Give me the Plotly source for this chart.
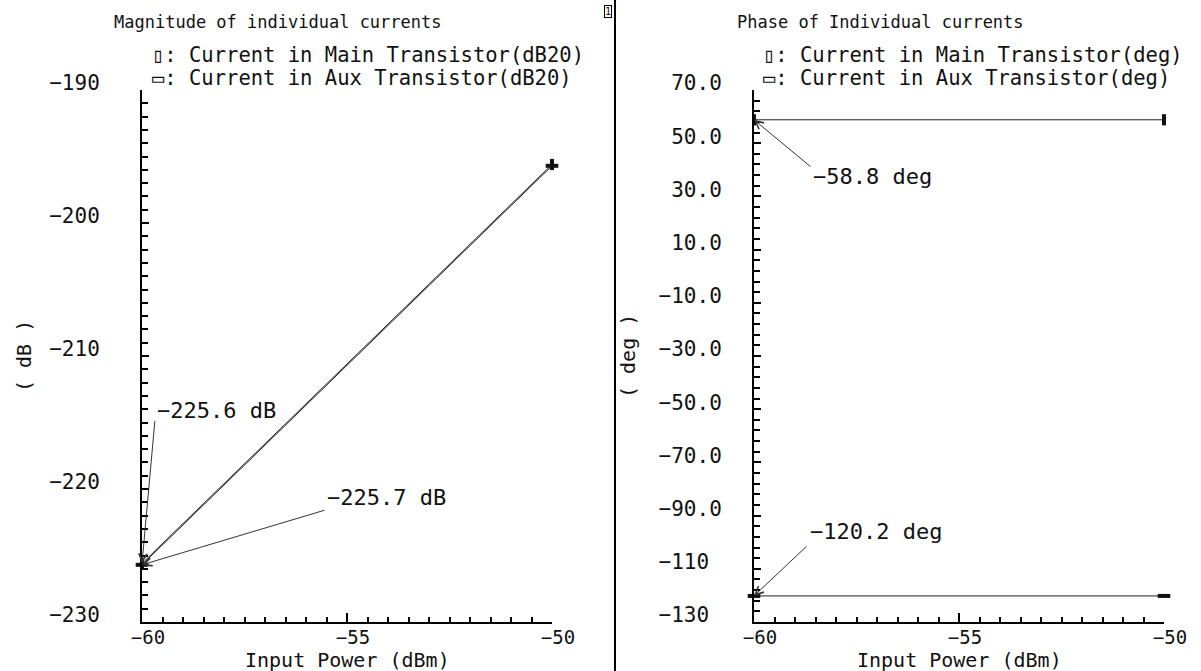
import plotly.graph_objects as go

W, H = 1201, 671

# ---- data ----
input_power = [-60, -50]
mag_main = [-225.6, -195.6]
mag_aux = [-225.7, -195.7]
phase_main = [58.8, 58.8]
phase_aux = [-120.2, -120.2]

x_ticks = [-60, -55, -50]
x_ticktext = ["−60", "−55", "−50"]
mag_ticks = [-230, -220, -210, -200, -190]
mag_ticktext = ["−230", "−220", "−210", "−200", "−190"]
phase_ticks = [-130, -110, -90, -70, -50, -30, -10, 10, 30, 50, 70]
phase_ticktext = ["−130\u00a0", "−110\u00a0", "−90.0", "−70.0", "−50.0", "−30.0",
                  "−10.0", "\u00a010.0", "\u00a030.0", "\u00a050.0", "\u00a070.0"]

FONT = "DejaVu Sans Mono"
INK = "#111111"


def px(x):
    return x / W


def py(y):
    return 1 - y / H


fig = go.Figure()

line_style = dict(color="#222222", width=1)
main_marker = dict(symbol="line-ns", size=8, line=dict(color="#111111", width=4))
aux_marker = dict(symbol="line-ew", size=9, line=dict(color="#111111", width=4))

fig.add_trace(go.Scatter(x=input_power, y=mag_main, mode="lines+markers", line=line_style,
                         marker=main_marker, xaxis="x", yaxis="y", cliponaxis=False,
                         name="Current in Main Transistor(dB20)", showlegend=False))
fig.add_trace(go.Scatter(x=input_power, y=mag_aux, mode="lines+markers", line=line_style,
                         marker=aux_marker, xaxis="x", yaxis="y", cliponaxis=False,
                         name="Current in Aux Transistor(dB20)", showlegend=False))
fig.add_trace(go.Scatter(x=input_power, y=phase_main, mode="lines+markers", line=line_style,
                         marker=main_marker, xaxis="x2", yaxis="y2", cliponaxis=False,
                         name="Current in Main Transistor(deg)", showlegend=False))
fig.add_trace(go.Scatter(x=input_power, y=phase_aux, mode="lines+markers", line=line_style,
                         marker=aux_marker, xaxis="x2", yaxis="y2", cliponaxis=False,
                         name="Current in Aux Transistor(deg)", showlegend=False))

common = dict(showline=True, linecolor="black", linewidth=2, ticks="inside",
              tickcolor="black", tickwidth=1.5, showgrid=False, zeroline=False,
              fixedrange=True, automargin=False,
              tickfont=dict(family=FONT, size=21, color=INK))

xa = dict(common, range=[-60, -50], tickmode="array", tickvals=x_ticks, ticktext=x_ticktext,
          ticklen=9, ticklabelshift=6, ticklabelstandoff=-3,
          tickfont=dict(family=FONT, size=19, color=INK),
          minor=dict(ticks="inside", tick0=-60, dtick=0.5, ticklen=5, tickwidth=1.5,
                     tickcolor="black"))

L0, L1 = 142, 552
R0, R1 = 754, 1164
T, B = 90, 622

fig.update_layout(
    width=W, height=H, margin=dict(l=0, r=0, t=0, b=0, autoexpand=False),
    paper_bgcolor="white", plot_bgcolor="white", showlegend=False,
    xaxis=dict(xa, domain=[px(L0), px(L1)], anchor="y"),
    yaxis=dict(common, domain=[py(B), py(T)], anchor="x", range=[-230, -190],
               tickmode="array", tickvals=mag_ticks, ticktext=mag_ticktext,
               ticklen=7, ticklabelshift=-7, ticklabelstandoff=36,
               minor=dict(ticks="inside", tick0=-230, dtick=1, ticklen=6, tickwidth=1.5,
                          tickcolor="black")),
    xaxis2=dict(xa, domain=[px(R0), px(R1)], anchor="y2"),
    yaxis2=dict(common, domain=[py(B), py(T)], anchor="x2", range=[-130, 70],
                tickmode="array", tickvals=phase_ticks, ticktext=phase_ticktext,
                ticklen=7, ticklabelshift=-7, ticklabelstandoff=26,
                minor=dict(ticks="inside", tick0=-130, dtick=4, ticklen=6, tickwidth=1.5,
                           tickcolor="black")),
)

ann = []


def text(x, y, s, size, anchor="left", angle=0):
    ann.append(dict(xref="paper", yref="paper", x=px(x), y=py(y), text=s, showarrow=False,
                    xanchor=anchor, yanchor="middle", textangle=angle, borderpad=0,
                    font=dict(family=FONT, size=size, color=INK)))


# titles
text(278, 22, "Magnitude of individual currents", 17, anchor="center")
text(880, 22, "Phase of Individual currents", 17, anchor="center")
# legends
text(151, 55, "▯: Current in Main Transistor(dB20)", 20.5)
text(151, 78, "▭: Current in Aux Transistor(dB20)", 20.5)
text(762, 55, "▯: Current in Main Transistor(deg)", 20.5)
text(762, 78, "▭: Current in Aux Transistor(deg)", 20.5)
# axis titles
text((L0 + L1) / 2, 660, "Input Power (dBm)", 20, anchor="center")
text((R0 + R1) / 2, 660, "Input Power (dBm)", 20, anchor="center")
text(24, (T + B) / 2, "( dB )", 20, anchor="center", angle=-90)
text(628, (T + B) / 2, "( deg )", 20, anchor="center", angle=-90)


# marker annotations (leader lines with open arrowheads)
def pointer(xref, yref, xv, yv, dx, dy, label, tx, ty):
    ann.append(dict(xref=xref, yref=yref, x=xv, y=yv, ax=dx, ay=dy, text="",
                    showarrow=True, arrowhead=5, arrowsize=1.6, arrowwidth=1,
                    arrowcolor="#333333", standoff=0))
    text(tx, ty, label, 22)


pointer("x", "y", input_power[0], mag_main[0], 13, -144, "−225.6 dB", 156, 410)
pointer("x", "y", input_power[0], mag_aux[0], 184, -55, "−225.7 dB", 326, 497)
pointer("x2", "y2", input_power[0], phase_main[0], 58, 48, "−58.8 deg", 812, 177)
pointer("x2", "y2", input_power[0], phase_aux[0], 54, -51, "−120.2 deg", 809, 531)

# subwindow number box
ann.append(dict(xref="paper", yref="paper", x=px(608), y=py(12), text="1", showarrow=False,
                font=dict(family=FONT, size=10, color=INK), bordercolor="black",
                borderwidth=1, borderpad=0, xanchor="center", yanchor="middle"))

fig.update_layout(annotations=ann)

# divider between the two sub-windows
fig.add_shape(type="line", xref="paper", yref="paper", x0=px(615), x1=px(615), y0=0, y1=1,
              line=dict(color="black", width=2))

fig.write_html("out.html")
